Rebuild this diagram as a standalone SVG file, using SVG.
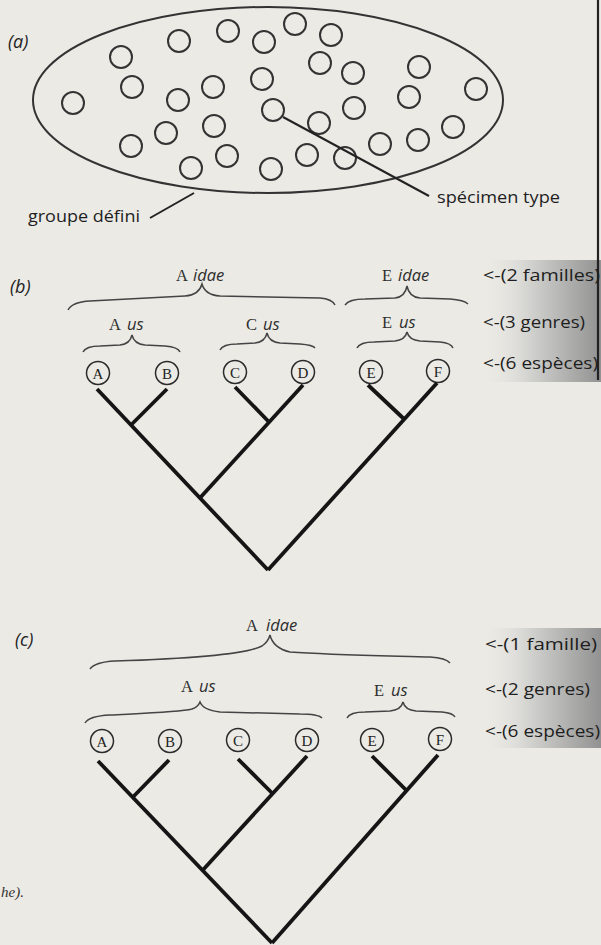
<svg xmlns="http://www.w3.org/2000/svg" width="601" height="945" viewBox="0 0 601 945">
<defs>
<linearGradient id="shadeB" x1="0" y1="0" x2="1" y2="0">
<stop offset="0" stop-color="#ebeae5" stop-opacity="0"/>
<stop offset="0.4" stop-color="#d3d3d0"/>
<stop offset="1" stop-color="#929292"/>
</linearGradient>
<style>
.spec{fill:none;stroke:#333;stroke-width:2}
.br{fill:none;stroke:#444;stroke-width:1.5}
.tree{fill:none;stroke:#151515;stroke-width:3.8;stroke-linecap:butt}
.leaf{fill:none;stroke:#2a2a2a;stroke-width:1.5}
.ll{font-family:'Liberation Serif',serif;font-size:15px;fill:#222;text-anchor:middle}
.sans{font-family:'Open Sans','Noto Sans',sans-serif;font-size:16.5px;fill:#1e1e1e}
.pl{font-family:'Open Sans','Noto Sans',sans-serif;font-style:italic;font-size:18px;fill:#222}
.cap{font-family:'Liberation Serif',serif;font-size:16.5px;fill:#2e2e2e}
.suf{font-family:'Open Sans','Noto Sans',sans-serif;font-style:italic;font-size:16.5px;fill:#2e2e2e}
.lead{fill:none;stroke:#222;stroke-width:2}
</style>
</defs>
<rect x="0" y="0" width="601" height="945" fill="#ebeae5"/>
<rect x="480" y="260" width="121" height="122" fill="url(#shadeB)"/>
<rect x="480" y="628" width="121" height="120" fill="url(#shadeB)"/>
<line x1="598" y1="0" x2="598" y2="380" stroke="#222" stroke-width="2.2"/>

<g id="panel-a">
<text class="pl" x="8" y="48">(a)</text>
<ellipse cx="268" cy="100" rx="235" ry="93" fill="none" stroke="#333" stroke-width="2"/>
<g id="specimens">
<circle class="spec" cx="73" cy="103" r="11"/>
<circle class="spec" cx="121" cy="57" r="11"/>
<circle class="spec" cx="132" cy="87" r="11"/>
<circle class="spec" cx="179" cy="41" r="11"/>
<circle class="spec" cx="178" cy="100" r="11"/>
<circle class="spec" cx="213" cy="87" r="11"/>
<circle class="spec" cx="228" cy="31" r="11"/>
<circle class="spec" cx="264" cy="42" r="11"/>
<circle class="spec" cx="262" cy="79" r="11"/>
<circle class="spec" cx="273" cy="110" r="11"/>
<circle class="spec" cx="166" cy="133" r="11"/>
<circle class="spec" cx="214" cy="126" r="11"/>
<circle class="spec" cx="131" cy="146" r="11"/>
<circle class="spec" cx="227" cy="156" r="11"/>
<circle class="spec" cx="191" cy="168" r="11"/>
<circle class="spec" cx="271" cy="169" r="11"/>
<circle class="spec" cx="295" cy="24" r="11"/>
<circle class="spec" cx="331" cy="35" r="11"/>
<circle class="spec" cx="320" cy="63" r="11"/>
<circle class="spec" cx="353" cy="73" r="11"/>
<circle class="spec" cx="419" cy="67" r="11"/>
<circle class="spec" cx="476" cy="89" r="11"/>
<circle class="spec" cx="409" cy="97" r="11"/>
<circle class="spec" cx="354" cy="108" r="11"/>
<circle class="spec" cx="319" cy="123" r="11"/>
<circle class="spec" cx="453" cy="127" r="11"/>
<circle class="spec" cx="418" cy="140" r="11"/>
<circle class="spec" cx="380" cy="144" r="11"/>
<circle class="spec" cx="307" cy="155" r="11"/>
<circle class="spec" cx="345" cy="158" r="11"/>
</g>
<line class="lead" x1="283" y1="117" x2="429" y2="196"/>
<line class="lead" x1="150" y1="218" x2="194" y2="193"/>
<text class="sans" x="28" y="222" textLength="112" lengthAdjust="spacingAndGlyphs">groupe défini</text>
<text class="sans" x="437" y="203" textLength="123" lengthAdjust="spacingAndGlyphs">spécimen type</text>
</g>

<g id="panel-b">
<text class="pl" x="10" y="293">(b)</text>
<text x="176" y="281"><tspan class="cap">A</tspan><tspan class="suf" x="193">idae</tspan></text>
<text x="382" y="281"><tspan class="cap">E</tspan><tspan class="suf" x="398">idae</tspan></text>
<text x="109" y="330"><tspan class="cap">A</tspan><tspan class="suf" x="127">us</tspan></text>
<text x="246" y="330"><tspan class="cap">C</tspan><tspan class="suf" x="263">us</tspan></text>
<text x="382" y="328"><tspan class="cap">E</tspan><tspan class="suf" x="399">us</tspan></text>
<g id="braces-b">
<path class="br" d="M68,310 Q72,302 90,301 L185,296 Q199,295 202,284 Q205,295 220,296 L320,298 Q332,299 335,305"/>
<path class="br" d="M345,305 Q349,299 365,299 L395,298 Q405,297 407,286 Q409,297 420,298 L450,299 Q464,300 468,304"/>
<path class="br" d="M83,352 Q86,346 100,346 L120,345 Q130,344 132,335 Q134,344 145,345 L165,346 Q178,347 180,352"/>
<path class="br" d="M220,350 Q223,344 237,344 L255,343 Q265,342 267,333 Q269,342 280,343 L300,344 Q313,345 315,348"/>
<path class="br" d="M357,348 Q360,342 374,342 L395,341 Q405,340 407,332 Q409,340 420,341 L440,342 Q451,343 453,348"/>
</g>
<g id="species-b">
<circle class="leaf" cx="98" cy="373" r="11.5"/><text class="ll" x="98" y="378.5">A</text>
<circle class="leaf" cx="167" cy="373" r="11.5"/><text class="ll" x="167" y="378.5">B</text>
<circle class="leaf" cx="235" cy="372" r="11.5"/><text class="ll" x="235" y="377.5">C</text>
<circle class="leaf" cx="303" cy="372" r="11.5"/><text class="ll" x="303" y="377.5">D</text>
<circle class="leaf" cx="371" cy="372" r="11.5"/><text class="ll" x="371" y="377.5">E</text>
<circle class="leaf" cx="438" cy="371" r="11.5"/><text class="ll" x="438" y="376.5">F</text>
</g>
<g id="tree-b">
<line class="tree" x1="97" y1="389" x2="268" y2="570"/>
<line class="tree" x1="437" y1="383" x2="268" y2="570"/>
<line class="tree" x1="167" y1="389" x2="131" y2="425"/>
<line class="tree" x1="235" y1="387" x2="269" y2="422"/>
<line class="tree" x1="303" y1="385" x2="199" y2="499"/>
<line class="tree" x1="368" y1="385" x2="404" y2="419"/>
</g>
<text class="sans" x="483" y="281" textLength="117" lengthAdjust="spacingAndGlyphs">&lt;-(2 familles)</text>
<text class="sans" x="483" y="328" textLength="102" lengthAdjust="spacingAndGlyphs">&lt;-(3 genres)</text>
<text class="sans" x="483" y="369" textLength="115" lengthAdjust="spacingAndGlyphs">&lt;-(6 espèces)</text>
</g>

<g id="panel-c">
<text class="pl" x="15" y="646">(c)</text>
<text x="246" y="631"><tspan class="cap">A</tspan><tspan class="suf" x="266">idae</tspan></text>
<text x="181" y="692"><tspan class="cap">A</tspan><tspan class="suf" x="199">us</tspan></text>
<text x="374" y="696"><tspan class="cap">E</tspan><tspan class="suf" x="391">us</tspan></text>
<g id="braces-c">
<path class="br" d="M90,669 Q95,662 115,661 C180,659 245,655 262,646 Q268,642 270,635 Q273,648 290,652 C330,655 400,656 430,657 Q446,658 450,663"/>
<path class="br" d="M85,723 Q89,716 110,715 C150,713 180,712 192,709 Q198,707 200,702 Q203,710 220,712 L300,714 Q318,714 322,718"/>
<path class="br" d="M347,718 Q350,712 365,712 L390,711 Q401,710 403,702 Q405,710 416,711 L442,712 Q453,713 455,717"/>
</g>
<g id="species-c">
<circle class="leaf" cx="102" cy="741" r="11.5"/><text class="ll" x="102" y="746.5">A</text>
<circle class="leaf" cx="170" cy="741" r="11.5"/><text class="ll" x="170" y="746.5">B</text>
<circle class="leaf" cx="238" cy="740" r="11.5"/><text class="ll" x="238" y="745.5">C</text>
<circle class="leaf" cx="307" cy="740" r="11.5"/><text class="ll" x="307" y="745.5">D</text>
<circle class="leaf" cx="372" cy="740" r="11.5"/><text class="ll" x="372" y="745.5">E</text>
<circle class="leaf" cx="440" cy="739" r="11.5"/><text class="ll" x="440" y="744.5">F</text>
</g>
<g id="tree-c">
<line class="tree" x1="98" y1="761" x2="272" y2="943"/>
<line class="tree" x1="438" y1="755" x2="272" y2="943"/>
<line class="tree" x1="169" y1="760" x2="133" y2="797"/>
<line class="tree" x1="238" y1="759" x2="272" y2="793"/>
<line class="tree" x1="307" y1="756" x2="202" y2="871"/>
<line class="tree" x1="372" y1="756" x2="406" y2="790"/>
</g>
<text class="sans" x="485" y="650" textLength="112" lengthAdjust="spacingAndGlyphs">&lt;-(1 famille)</text>
<text class="sans" x="485" y="695" textLength="105" lengthAdjust="spacingAndGlyphs">&lt;-(2 genres)</text>
<text class="sans" x="485" y="737" textLength="115" lengthAdjust="spacingAndGlyphs">&lt;-(6 espèces)</text>
</g>
<text x="1" y="897" font-family="'Liberation Serif',serif" font-style="italic" font-size="15" fill="#333">he).</text>
</svg>
